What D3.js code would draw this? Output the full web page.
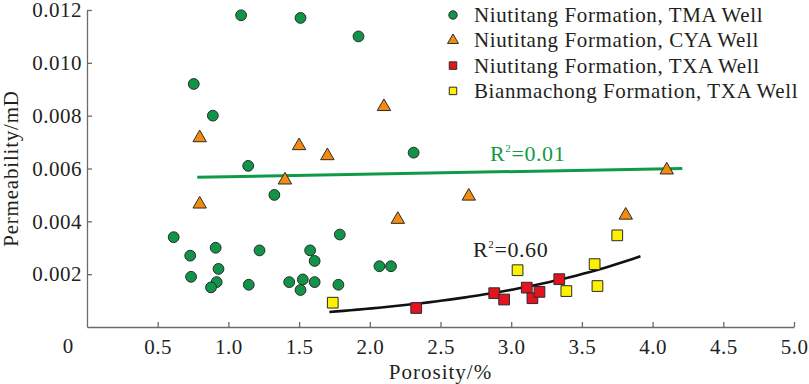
<!DOCTYPE html>
<html>
<head>
<meta charset="utf-8">
<script src="https://cdn.jsdelivr.net/npm/d3@7/dist/d3.min.js"></script>
<style>
  body { margin: 0; background: #fff; }
  svg text { font-family: "Liberation Serif", "DejaVu Serif", serif; fill: #231f20; }
</style>
</head>
<body>
<div id="chart"></div>
<script>
const width = 809
const height = 384

// porosity (%), permeability (mD)
const tmaWell = [
  [1.09, 0.0118], [1.51, 0.0117], [1.92, 0.0110], [0.755, 0.0092], [0.89, 0.0080],
  [1.14, 0.0061], [1.325, 0.0050], [2.31, 0.0066], [0.613, 0.0034], [0.73, 0.0027],
  [0.736, 0.0019], [0.91, 0.0030], [0.93, 0.0022], [0.917, 0.0017], [0.877, 0.0015],
  [1.144, 0.0016], [1.22, 0.0029], [1.43, 0.0017], [1.526, 0.0018], [1.51, 0.0014],
  [1.578, 0.0029], [1.61, 0.0025], [1.61, 0.0017], [1.788, 0.0035], [1.778, 0.0016],
  [2.068, 0.0023], [2.15, 0.0023]
]
const cyaWell = [
  [0.797, 0.00716], [1.50, 0.00686], [1.70, 0.00648], [2.10, 0.00834], [1.40, 0.00556],
  [0.797, 0.00465], [2.198, 0.00407], [4.10, 0.00594], [2.70, 0.00495], [3.81, 0.00423]
]
const txaNiu = [
  [2.328, 0.00072], [2.88, 0.00128], [2.95, 0.00104], [3.11, 0.00149],
  [3.15, 0.00109], [3.20, 0.00133], [3.34, 0.00181]
]
const txaBian = [
  [1.738, 0.00092], [3.045, 0.00215], [3.39, 0.00136], [3.59, 0.00238],
  [3.61, 0.00155], [3.75, 0.00347]
]

// fitted trends
const linearFit = { x0: 0.78, x1: 4.21, y0: 0.00567, y1: 0.0060, r2: "0.01" }
const expFit = { a: 0.000171, b: 0.703, x0: 1.714, x1: 3.943, r2: "0.60" }

const xTicks = [0.5, 1.0, 1.5, 2.0, 2.5, 3.0, 3.5, 4.0, 4.5, 5.0]
const yTicks = [0.002, 0.004, 0.006, 0.008, 0.010, 0.012]

const legendItems = [
  { label: "Niutitang Formation, TMA Well", shape: "circle", color: "#119447" },
  { label: "Niutitang Formation, CYA Well", shape: "triangle", color: "#f38b0f" },
  { label: "Niutitang Formation, TXA Well", shape: "square", color: "#e3141f" },
  { label: "Bianmachong Formation, TXA Well", shape: "square", color: "#fdf000" }
]

const margin = { top: 10, right: 15, bottom: 57, left: 87 }

const svg = d3.select("#chart").append("svg")
  .attr("width", width)
  .attr("height", height)

const xScale = d3.scaleLinear().domain([0, 5]).range([margin.left, width - margin.right])
const yScale = d3.scaleLinear().domain([0, 0.012]).range([height - margin.bottom, margin.top])

const axisColor = "#6b6b6b"

// x axis, ticks pointing inward
const xAxis = svg.append("g")
  .attr("transform", "translate(0," + yScale(0) + ")")
  .call(d3.axisBottom(xScale).tickValues(xTicks).tickFormat(d3.format(".1f"))
    .tickSizeInner(-5).tickSizeOuter(0).tickPadding(12))
xAxis.select(".domain").attr("stroke", axisColor).attr("stroke-width", 1.3)
xAxis.selectAll(".tick line").attr("stroke", axisColor).attr("stroke-width", 1.3)
xAxis.selectAll("text").attr("font-size", "21px").attr("fill", "#231f20")
  .attr("dy", "0.71em").attr("letter-spacing", "0.5px")

const yAxis = svg.append("g")
  .attr("transform", "translate(" + xScale(0) + ",0)")
  .call(d3.axisLeft(yScale).tickValues(yTicks).tickFormat(d3.format(".3f"))
    .tickSizeInner(-5).tickSizeOuter(0).tickPadding(5))
yAxis.select(".domain").attr("stroke", axisColor).attr("stroke-width", 1.3)
yAxis.selectAll(".tick line").attr("stroke", axisColor).attr("stroke-width", 1.3)
yAxis.selectAll("text").attr("font-size", "21px").attr("fill", "#231f20")
  .attr("letter-spacing", "0.5px")

// origin label
svg.append("text")
  .attr("x", xScale(0) - 19)
  .attr("y", yScale(0) + 26)
  .attr("text-anchor", "middle")
  .attr("font-size", "21px")
  .text("0")

// axis titles
svg.append("text")
  .attr("x", xScale(2.5))
  .attr("y", 379)
  .attr("text-anchor", "middle")
  .attr("font-size", "21px")
  .attr("letter-spacing", "1px")
  .text("Porosity/%")

svg.append("text")
  .attr("transform", "translate(18," + yScale(0.006) + ") rotate(-90)")
  .attr("text-anchor", "middle")
  .attr("font-size", "21px")
  .attr("letter-spacing", "0.8px")
  .text("Permeability/mD")

// trend lines
svg.append("line")
  .attr("x1", xScale(linearFit.x0)).attr("y1", yScale(linearFit.y0))
  .attr("x2", xScale(linearFit.x1)).attr("y2", yScale(linearFit.y1))
  .attr("stroke", "#0f9a48").attr("stroke-width", 3)

const expPts = d3.range(expFit.x0, expFit.x1 + 0.001, 0.05)
  .map(function (x) { return [x, expFit.a * Math.exp(expFit.b * x)] })
svg.append("path")
  .attr("d", d3.line().x(function (d) { return xScale(d[0]) }).y(function (d) { return yScale(d[1]) })(expPts))
  .attr("fill", "none").attr("stroke", "#111").attr("stroke-width", 2.6)

function drawR2(x, y, value, color) {
  let t = svg.append("text").attr("x", x).attr("y", y).attr("font-size", "22px")
    .attr("letter-spacing", "0.6px")
    .style("fill", color)
  t.append("tspan").text("R")
  t.append("tspan").attr("font-size", "11px").attr("dy", -9).text("2")
  t.append("tspan").attr("dy", 9).text("=" + value)
}
drawR2(xScale(2.85), yScale(0.0063), linearFit.r2, "#0f9a48")
drawR2(xScale(2.73), yScale(0.00266), expFit.r2, "#231f20")

// markers
const markerStroke = "#2b2b2b"
function drawSeries(data, shape, color, size) {
  let g = svg.append("g")
  if (shape === "circle") {
    g.selectAll("circle").data(data).enter().append("circle")
      .attr("cx", function (d) { return xScale(d[0]) })
      .attr("cy", function (d) { return yScale(d[1]) })
      .attr("r", size)
      .attr("fill", color).attr("stroke", markerStroke).attr("stroke-width", 1)
  } else {
    let sym = shape === "triangle" ? d3.symbolTriangle : d3.symbolSquare
    g.selectAll("path").data(data).enter().append("path")
      .attr("transform", function (d) { return "translate(" + xScale(d[0]) + "," + yScale(d[1]) + ")" })
      .attr("d", d3.symbol().type(sym).size(size))
      .attr("fill", color).attr("stroke", markerStroke).attr("stroke-width", 1)
  }
}
drawSeries(tmaWell, "circle", legendItems[0].color, 5.4)
drawSeries(cyaWell, "triangle", legendItems[1].color, 78)
drawSeries(txaNiu, "square", legendItems[2].color, 115)
drawSeries(txaBian, "square", legendItems[3].color, 115)

// legend
const legend = svg.append("g").attr("transform", "translate(453,15)")
legendItems.forEach(function (item, i) {
  let row = legend.append("g").attr("transform", "translate(0," + (i * 25.3) + ")")
  if (item.shape === "circle") {
    row.append("circle").attr("r", 4.2)
      .attr("fill", item.color).attr("stroke", markerStroke).attr("stroke-width", 1)
  } else {
    let sym = item.shape === "triangle" ? d3.symbolTriangle : d3.symbolSquare
    row.append("path")
      .attr("d", d3.symbol().type(sym).size(item.shape === "triangle" ? 52 : 56))
      .attr("fill", item.color).attr("stroke", markerStroke).attr("stroke-width", 1)
  }
  row.append("text")
    .attr("x", 21)
    .attr("y", 7)
    .attr("font-size", "21px")
    .attr("letter-spacing", "0.6px")
    .text(item.label)
})
</script>
</body>
</html>
